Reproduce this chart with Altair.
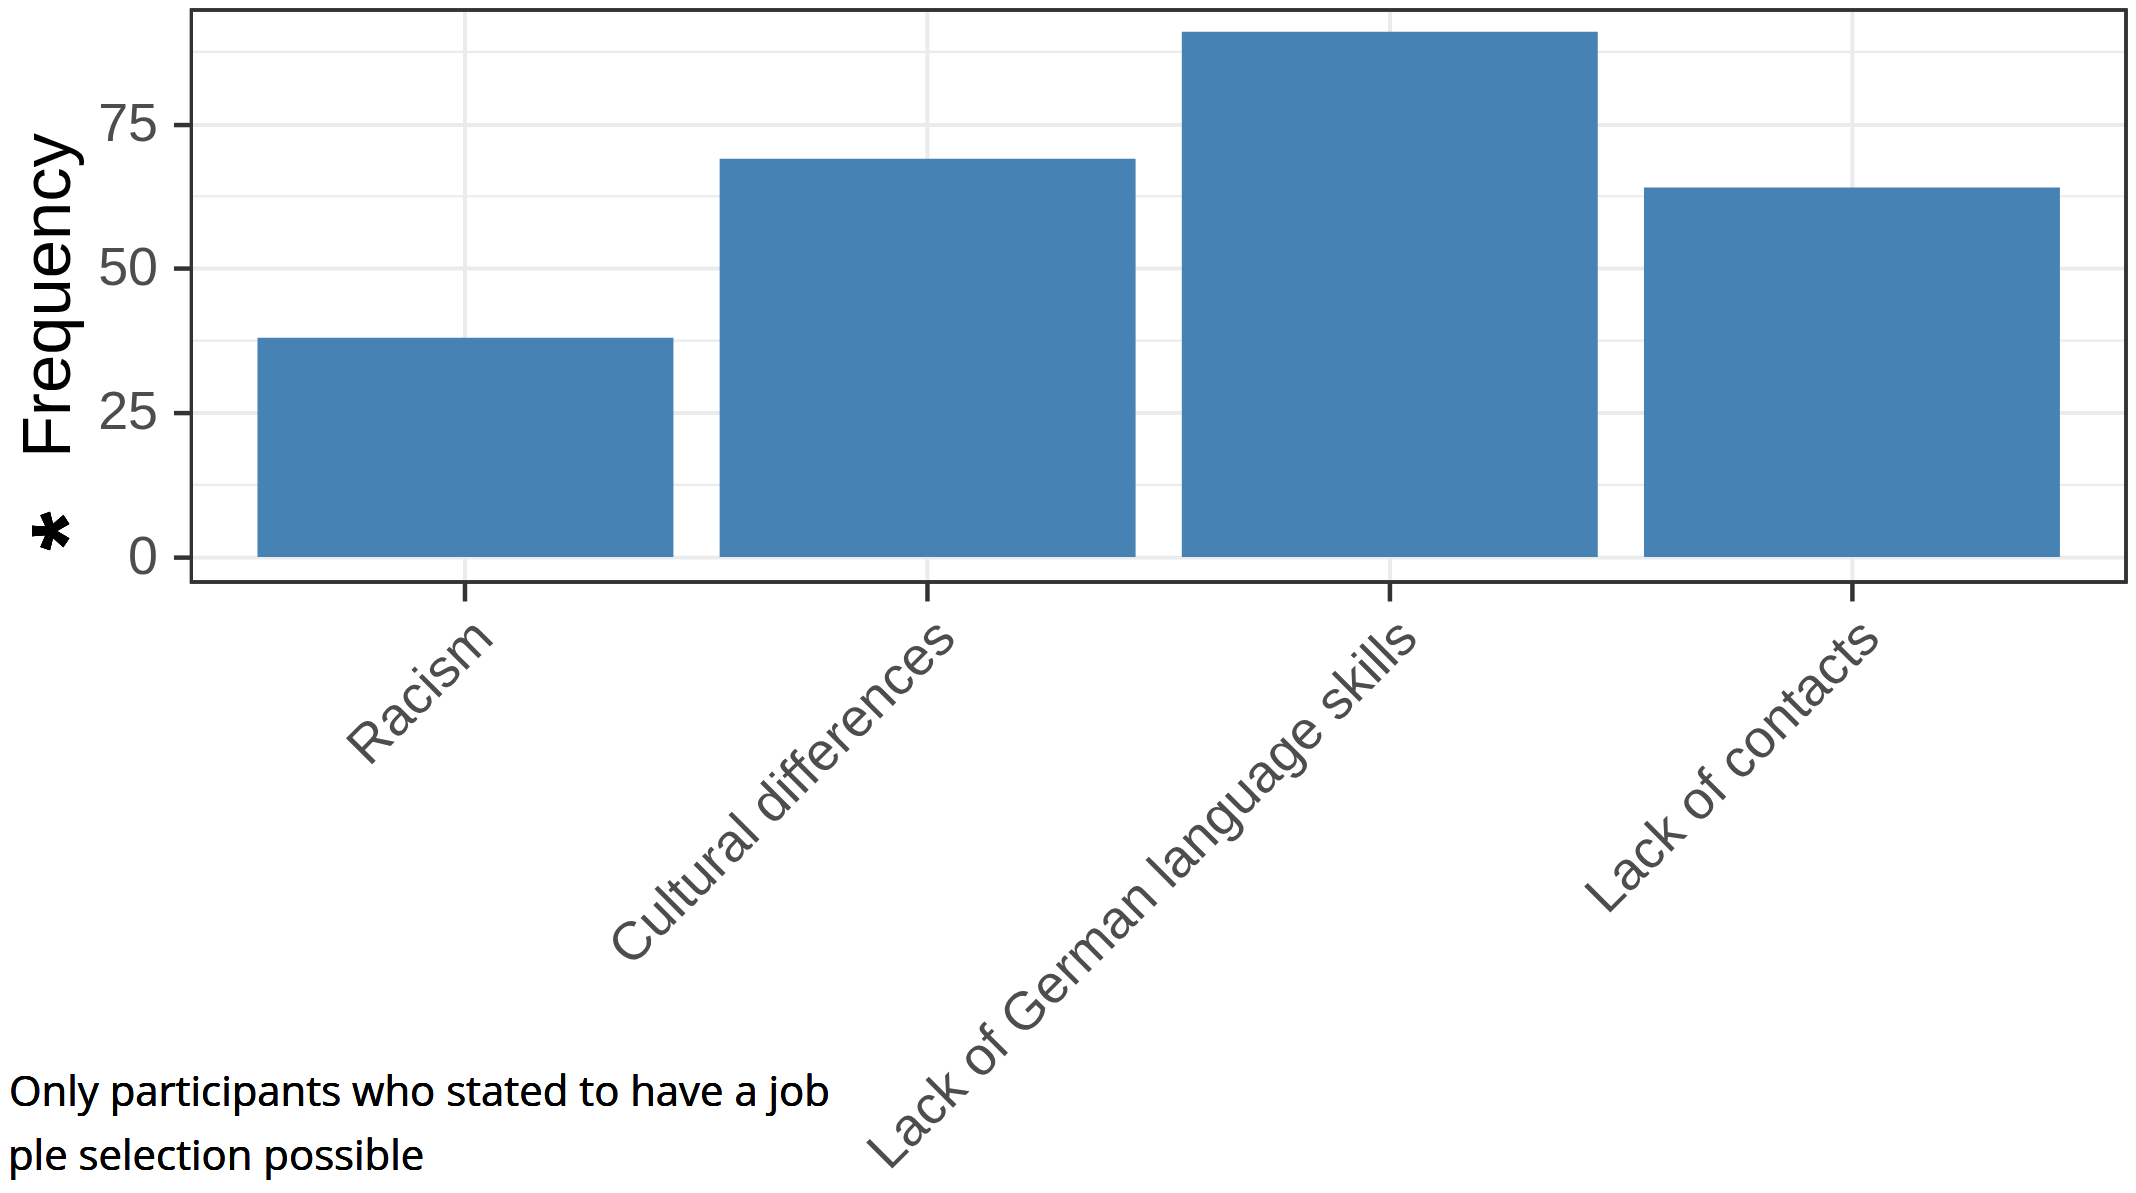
import altair as alt
import pandas as pd

categories = ["Racism", "Cultural differences", "Lack of German language skills", "Lack of contacts"]
frequencies = [38, 69, 91, 64]
y_major = [0, 25, 50, 75]
y_minor = [12.5, 37.5, 62.5, 87.5]
y_domain = [-4.32, 94.77]
footnote = ["Only participants who stated to have a job", "ple selection possible"]

W, H = 1941, 574
GRID = "#EBEBEB"
DARK = "#333333"
LABEL = "#4D4D4D"
FONT = "Liberation Sans"
NOTE_FONT = "Open Sans"

bars_df = pd.DataFrame({"category": categories, "frequency": frequencies})
minor_df = pd.DataFrame({"frequency": y_minor})

yscale = alt.Scale(domain=y_domain, nice=False, zero=False)
yaxis = alt.Axis(
    values=y_major,
    title="Frequency",
    titleFont=FONT,
    titleFontSize=69,
    titleFontWeight="normal",
    titleColor="black",
    titleAngle=270,
    titleAlign="center",
    titleBaseline="middle",
    titleX=-143,
    titleY=286,
    labelFont=FONT,
    labelFontSize=54,
    labelColor=LABEL,
    labelPadding=16,
    tickSize=18,
    tickWidth=4.5,
    tickColor=DARK,
    domain=False,
    grid=True,
    gridColor=GRID,
    gridWidth=4,
)

minor = alt.Chart(minor_df).mark_rule(color=GRID, strokeWidth=2.2).encode(
    y=alt.Y("frequency:Q", scale=yscale, axis=yaxis)
)

bars = alt.Chart(bars_df).mark_bar(color="#4682B4").encode(
    x=alt.X(
        "category:N",
        sort=categories,
        scale=alt.Scale(paddingInner=0.1, paddingOuter=0.143),
        axis=alt.Axis(
            title=None,
            labelAngle=315,
            labelAlign="right",
            labelBaseline="top",
            labelFont=FONT,
            labelFontSize=54,
            labelColor=LABEL,
            labelPadding=9,
            labelLimit=0,
            labelOverlap=False,
            tickSize=19,
            tickWidth=4.5,
            tickColor=DARK,
            domain=False,
            grid=True,
            gridColor=GRID,
            gridWidth=4,
        ),
    ),
    y=alt.Y("frequency:Q", scale=yscale, axis=yaxis),
)

border = alt.Chart(bars_df).mark_rect(fill=None, stroke=DARK, strokeWidth=3).encode(
    x=alt.value(0), x2=alt.value(W), y=alt.value(0), y2=alt.value(H)
)

star = alt.Chart(bars_df).mark_text(
    text="*", angle=270, fontSize=100, font=FONT, fontWeight="bold", color="black",
    align="center", baseline="middle"
).encode(x=alt.value(-121), y=alt.value(523))

note1 = alt.Chart(bars_df).mark_text(
    text=footnote[0], fontSize=42, font=NOTE_FONT, color="black",
    align="left", baseline="alphabetic"
).encode(x=alt.value(-183), y=alt.value(1100))

note2 = alt.Chart(bars_df).mark_text(
    text=footnote[1], fontSize=42, font=NOTE_FONT, color="black",
    align="left", baseline="alphabetic"
).encode(x=alt.value(-184), y=alt.value(1164))

chart = alt.layer(minor, bars, border, star, note1, note2).properties(
    width=W,
    height=H,
    autosize=alt.AutoSizeParams(type="none"),
    padding={"left": 184, "top": 0, "right": 2, "bottom": 598},
).configure_view(stroke=None)

chart.save("out.html", embed_options={"renderer": "svg", "actions": False})
